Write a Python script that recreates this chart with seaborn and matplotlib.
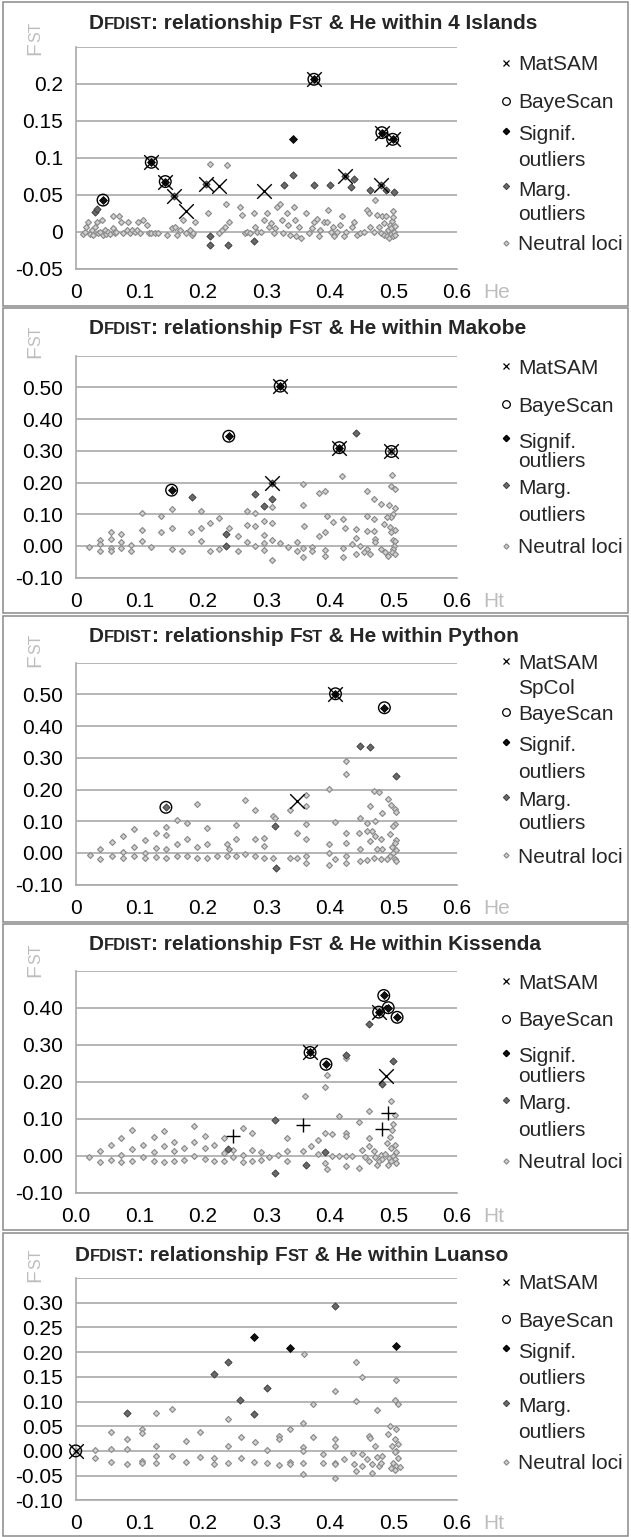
import matplotlib
matplotlib.use("Agg")
import matplotlib.pyplot as plt
import seaborn as sns
import pandas as pd
from matplotlib.patches import Rectangle
from matplotlib.lines import Line2D

# ---------------------------------------------------------------- data
# Panel 1: 4 Islands
ISL_SIG = [(0.043, 0.043), (0.119, 0.094), (0.141, 0.068), (0.375, 0.206), (0.482, 0.134), (0.499, 0.125), (0.342, 0.125)]
ISL_BAY = [(0.043, 0.043), (0.119, 0.094), (0.141, 0.068), (0.375, 0.206), (0.482, 0.134), (0.499, 0.125)]
ISL_MAT = [(0.119, 0.094), (0.141, 0.068), (0.375, 0.206), (0.482, 0.134), (0.499, 0.125), (0.155, 0.049),
           (0.173, 0.028), (0.205, 0.065), (0.226, 0.062), (0.296, 0.055), (0.424, 0.075), (0.481, 0.063)]
ISL_MARG = [(0.030, 0.027), (0.033, 0.031), (0.155, 0.049), (0.205, 0.065), (0.328, 0.063), (0.342, 0.077),
            (0.375, 0.064), (0.401, 0.064), (0.424, 0.075), (0.434, 0.061), (0.438, 0.071), (0.464, 0.057),
            (0.481, 0.063), (0.488, 0.057), (0.501, 0.054), (0.212, -0.005), (0.212, -0.017), (0.239, -0.017),
            (0.281, -0.012)]
ISL_NEUTRAL = [
    (0.012, -0.003), (0.014, 0.000), (0.017, 0.007), (0.019, 0.013), (0.022, -0.003), (0.025, 0.003), (0.027, -0.004),
    (0.030, 0.007), (0.033, 0.014), (0.035, -0.002), (0.038, 0.000), (0.041, 0.016), (0.043, -0.004), (0.046, 0.003),
    (0.048, -0.003), (0.051, 0.000), (0.054, -0.003), (0.058, 0.005), (0.059, 0.021), (0.062, -0.002), (0.064, 0.000),
    (0.068, 0.021), (0.072, 0.014), (0.075, -0.001), (0.080, 0.002), (0.083, 0.014), (0.085, -0.002), (0.089, 0.002),
    (0.093, 0.000), (0.096, 0.003), (0.098, 0.014), (0.101, -0.002), (0.106, 0.016), (0.113, 0.009), (0.116, -0.002),
    (0.119, -0.002), (0.125, -0.002), (0.130, -0.002), (0.143, -0.004), (0.151, 0.005), (0.156, 0.007), (0.160, -0.004),
    (0.164, 0.003), (0.169, 0.016), (0.174, -0.002), (0.180, 0.003), (0.183, -0.004), (0.188, 0.014), (0.185, -0.002),
    (0.209, 0.025), (0.237, 0.038), (0.211, 0.092), (0.238, 0.090), (0.225, -0.002), (0.230, 0.003), (0.235, 0.007),
    (0.241, 0.014), (0.259, 0.034), (0.267, -0.002), (0.262, 0.023), (0.269, 0.000), (0.275, -0.002), (0.280, 0.025),
    (0.283, 0.007), (0.285, 0.000), (0.291, 0.000), (0.296, 0.016), (0.301, 0.025), (0.304, 0.007), (0.307, 0.012),
    (0.312, -0.002), (0.314, 0.005), (0.317, 0.034), (0.322, 0.038), (0.325, 0.016), (0.327, -0.002), (0.333, 0.025),
    (0.335, 0.009), (0.338, -0.004), (0.343, 0.034), (0.346, 0.016), (0.347, -0.006), (0.351, 0.007), (0.354, -0.008),
    (0.362, 0.025), (0.367, -0.002), (0.372, 0.005), (0.375, 0.014), (0.380, 0.018), (0.383, -0.006), (0.385, 0.003),
    (0.391, 0.014), (0.395, 0.014), (0.398, 0.030), (0.402, 0.000), (0.405, 0.007), (0.407, -0.006), (0.412, 0.000),
    (0.416, 0.009), (0.419, 0.021), (0.422, -0.006), (0.425, 0.000), (0.435, 0.007), (0.438, 0.013), (0.443, -0.004),
    (0.448, -0.002), (0.454, 0.000), (0.458, 0.030), (0.462, 0.025), (0.464, 0.007), (0.469, 0.000), (0.472, 0.043),
    (0.475, 0.023), (0.477, 0.007), (0.480, -0.002), (0.483, 0.021), (0.485, -0.004), (0.490, -0.005), (0.492, 0.002),
    (0.494, -0.008), (0.495, 0.010), (0.496, -0.003), (0.497, 0.005), (0.498, 0.015), (0.499, -0.006), (0.500, 0.020),
    (0.500, 0.028), (0.501, 0.000), (0.502, -0.004), (0.502, 0.008), (0.488, 0.022), (0.486, 0.012)]

# Panel 2: Makobe
MAK_SIG = [(0.151, 0.176), (0.241, 0.346), (0.322, 0.504), (0.415, 0.310)]
MAK_BAY = [(0.151, 0.176), (0.241, 0.346), (0.322, 0.504), (0.415, 0.310), (0.497, 0.298)]
MAK_MAT = [(0.322, 0.504), (0.415, 0.310), (0.497, 0.298), (0.309, 0.199)]
MAK_MARG = [(0.183, 0.154), (0.283, 0.165), (0.296, 0.127), (0.309, 0.148), (0.442, 0.355), (0.497, 0.298),
            (0.309, 0.199), (0.237, 0.038), (0.237, 0.001)]
MAK_NEUTRAL = [
    (0.021, -0.004), (0.038, 0.020), (0.038, 0.006), (0.038, -0.015), (0.055, 0.043), (0.055, 0.022), (0.055, -0.007),
    (0.055, -0.015), (0.071, 0.038), (0.071, 0.014), (0.071, -0.007), (0.087, 0.003), (0.087, -0.015), (0.104, 0.105),
    (0.104, 0.050), (0.104, 0.015), (0.119, -0.004), (0.135, 0.095), (0.135, 0.045), (0.151, 0.118), (0.151, 0.058),
    (0.151, -0.009), (0.167, -0.015), (0.182, 0.043), (0.197, 0.109), (0.197, 0.017), (0.197, 0.057), (0.212, 0.072),
    (0.212, -0.015), (0.226, 0.087), (0.226, -0.009), (0.242, 0.058), (0.255, 0.032), (0.255, -0.015), (0.269, 0.111),
    (0.269, 0.067), (0.269, 0.014), (0.283, 0.105), (0.283, 0.064), (0.283, -0.001), (0.296, 0.079), (0.296, 0.034),
    (0.296, 0.008), (0.296, -0.013), (0.309, 0.124), (0.309, 0.072), (0.309, 0.019), (0.309, -0.043), (0.322, 0.008),
    (0.335, -0.004), (0.348, 0.011), (0.348, -0.015), (0.358, 0.194), (0.358, 0.128), (0.360, 0.062), (0.358, -0.006),
    (0.358, -0.035), (0.372, -0.004), (0.372, -0.015), (0.383, 0.168), (0.383, 0.032), (0.393, 0.173), (0.393, 0.043),
    (0.393, -0.013), (0.393, -0.030), (0.395, 0.095), (0.405, 0.077), (0.419, 0.220), (0.421, 0.085), (0.424, 0.058),
    (0.421, -0.006), (0.421, -0.035), (0.435, 0.006), (0.442, 0.053), (0.442, 0.025), (0.442, -0.025), (0.459, 0.173),
    (0.458, 0.095), (0.459, 0.048), (0.459, -0.009), (0.469, 0.147), (0.469, 0.085), (0.469, 0.048), (0.472, 0.022),
    (0.472, 0.011), (0.480, 0.132), (0.480, -0.009), (0.464, -0.025), (0.454, -0.020), (0.448, 0.001), (0.498, 0.225),
    (0.496, 0.190), (0.502, 0.180), (0.494, 0.130), (0.502, 0.120), (0.500, 0.100), (0.497, 0.090), (0.490, 0.090),
    (0.495, 0.060), (0.502, 0.050), (0.497, 0.045), (0.499, 0.020), (0.502, 0.015), (0.501, 0.000), (0.500, -0.010),
    (0.498, -0.020), (0.503, -0.025), (0.492, -0.030), (0.486, 0.070), (0.487, -0.020)]

# Panel 3: Python
PYT_SIG = [(0.409, 0.502), (0.486, 0.458)]
PYT_BAY = [(0.409, 0.502), (0.486, 0.458), (0.142, 0.144)]
PYT_MAT = [(0.409, 0.502), (0.349, 0.165)]
PYT_MARG = [(0.142, 0.144), (0.447, 0.337), (0.464, 0.333), (0.505, 0.243), (0.314, 0.085), (0.316, -0.046)]
PYT_NEUTRAL = [
    (0.022, -0.006), (0.039, 0.014), (0.039, -0.018), (0.057, 0.034), (0.057, -0.009), (0.075, 0.004), (0.075, -0.015),
    (0.075, 0.053), (0.092, 0.076), (0.092, 0.020), (0.092, -0.009), (0.109, 0.041), (0.109, 0.001), (0.109, -0.015),
    (0.126, 0.062), (0.126, 0.015), (0.126, -0.013), (0.142, 0.082), (0.142, 0.058), (0.142, 0.014), (0.142, -0.017),
    (0.159, 0.105), (0.159, 0.027), (0.159, -0.009), (0.175, 0.095), (0.175, 0.045), (0.175, -0.009), (0.191, 0.156),
    (0.191, 0.019), (0.191, -0.017), (0.206, 0.079), (0.206, 0.027), (0.206, -0.017), (0.222, -0.009), (0.238, 0.027),
    (0.241, 0.011), (0.238, -0.009), (0.253, 0.087), (0.253, 0.043), (0.253, -0.009), (0.267, 0.166), (0.267, -0.004),
    (0.282, 0.137), (0.282, 0.043), (0.282, -0.009), (0.296, 0.048), (0.296, 0.022), (0.296, -0.015), (0.310, 0.118),
    (0.314, 0.111), (0.310, -0.015), (0.337, 0.137), (0.337, -0.015), (0.349, 0.064), (0.349, -0.015), (0.363, 0.184),
    (0.363, 0.147), (0.363, 0.090), (0.363, 0.045), (0.363, -0.009), (0.363, -0.030), (0.399, 0.201), (0.399, 0.027),
    (0.399, 0.001), (0.399, -0.038), (0.409, 0.097), (0.409, -0.018), (0.426, 0.291), (0.426, 0.249), (0.426, 0.064),
    (0.426, 0.030), (0.426, -0.009), (0.426, -0.032), (0.446, 0.064), (0.448, 0.111), (0.448, 0.014), (0.448, -0.025),
    (0.458, 0.095), (0.458, 0.069), (0.458, -0.022), (0.464, 0.147), (0.464, 0.038), (0.467, 0.069), (0.469, 0.194),
    (0.472, 0.100), (0.472, 0.053), (0.475, 0.011), (0.477, 0.191), (0.480, 0.043), (0.483, 0.126), (0.483, 0.014),
    (0.469, -0.015), (0.480, -0.020), (0.492, 0.170), (0.497, 0.150), (0.502, 0.140), (0.505, 0.130), (0.503, 0.090),
    (0.500, 0.085), (0.495, 0.060), (0.505, 0.040), (0.503, 0.030), (0.498, 0.020), (0.505, 0.010), (0.500, 0.000),
    (0.495, -0.010), (0.503, -0.020), (0.505, -0.025), (0.490, -0.020)]

# Panel 4: Kissenda
KIS_SIG = [(0.485, 0.433), (0.492, 0.400), (0.506, 0.374), (0.394, 0.247), (0.369, 0.279), (0.477, 0.388)]
KIS_BAY = [(0.485, 0.433), (0.492, 0.400), (0.506, 0.374), (0.394, 0.247), (0.369, 0.279), (0.477, 0.388)]
KIS_MAT = [(0.369, 0.279), (0.477, 0.388), (0.488, 0.215)]
KIS_PLUS = [(0.247, 0.054), (0.358, 0.082), (0.483, 0.073), (0.492, 0.116)]
KIS_MARG = [(0.462, 0.357), (0.425, 0.272), (0.499, 0.257), (0.483, 0.193), (0.313, 0.097), (0.313, -0.047),
            (0.362, -0.024), (0.239, 0.019), (0.393, 0.010)]
KIS_NEUTRAL = [
    (0.021, -0.004), (0.038, 0.013), (0.038, -0.017), (0.055, 0.030), (0.055, -0.011), (0.072, 0.049), (0.072, 0.001),
    (0.072, -0.017), (0.089, 0.070), (0.089, 0.018), (0.089, -0.013), (0.106, 0.030), (0.106, -0.004), (0.123, 0.051),
    (0.123, 0.010), (0.123, -0.015), (0.139, 0.067), (0.139, 0.025), (0.139, -0.017), (0.155, 0.037), (0.155, 0.012),
    (0.155, -0.013), (0.171, 0.021), (0.171, -0.011), (0.187, 0.081), (0.187, 0.037), (0.187, -0.002), (0.203, 0.052),
    (0.203, 0.022), (0.203, -0.008), (0.218, 0.030), (0.218, -0.015), (0.233, 0.047), (0.233, 0.007), (0.233, -0.013),
    (0.248, 0.016), (0.248, -0.004), (0.263, 0.074), (0.263, 0.003), (0.263, -0.017), (0.277, 0.061), (0.277, 0.016),
    (0.277, -0.015), (0.291, 0.010), (0.291, -0.011), (0.304, -0.004), (0.319, 0.001), (0.333, 0.047), (0.333, 0.013),
    (0.333, -0.015), (0.358, 0.012), (0.361, 0.162), (0.370, 0.025), (0.382, 0.043), (0.382, 0.004), (0.393, 0.186),
    (0.396, 0.218), (0.393, 0.061), (0.393, -0.020), (0.396, -0.035), (0.404, 0.059), (0.404, -0.002), (0.415, 0.106),
    (0.415, -0.002), (0.425, 0.061), (0.425, 0.054), (0.425, -0.002), (0.425, -0.027), (0.435, -0.002), (0.446, 0.091),
    (0.446, -0.033), (0.451, 0.016), (0.456, -0.004), (0.462, 0.121), (0.462, 0.047), (0.462, 0.025), (0.462, -0.015),
    (0.469, 0.012), (0.472, -0.004), (0.475, -0.024), (0.477, -0.015), (0.480, 0.003), (0.483, -0.008), (0.425, 0.265),
    (0.497, 0.148), (0.503, 0.110), (0.500, 0.085), (0.498, 0.070), (0.495, 0.050), (0.490, 0.035), (0.502, 0.030),
    (0.497, 0.020), (0.505, 0.010), (0.500, 0.000), (0.494, -0.005), (0.503, -0.010), (0.497, -0.015), (0.505, -0.020),
    (0.492, -0.025), (0.487, 0.005)]

# Panel 5: Luanso
LUA_SIG = [(0.280, 0.231), (0.338, 0.209), (0.504, 0.212)]
LUA_BAY = [(0.0, 0.0)]
LUA_MAT = [(0.0, 0.0)]
LUA_MARG = [(0.080, 0.077), (0.217, 0.156), (0.239, 0.179), (0.259, 0.104), (0.301, 0.128), (0.409, 0.294), (0.280, 0.074)]
LUA_NEUTRAL = [
    (0.0, 0.0), (0.030, 0.002), (0.030, -0.015), (0.055, 0.038), (0.055, 0.003), (0.055, -0.022), (0.080, 0.024),
    (0.080, 0.003), (0.080, -0.027), (0.104, 0.044), (0.104, 0.037), (0.104, -0.020), (0.104, -0.024), (0.127, 0.076),
    (0.127, 0.010), (0.127, -0.010), (0.127, -0.025), (0.151, 0.085), (0.151, -0.010), (0.174, 0.020), (0.174, -0.022),
    (0.196, 0.038), (0.196, -0.013), (0.218, -0.015), (0.218, -0.027), (0.239, 0.064), (0.239, 0.009), (0.239, -0.024),
    (0.260, 0.029), (0.260, -0.015), (0.282, 0.018), (0.280, -0.022), (0.301, 0.002), (0.301, -0.025), (0.320, 0.030),
    (0.320, 0.024), (0.320, -0.028), (0.338, 0.044), (0.338, -0.022), (0.338, -0.027), (0.358, 0.057), (0.358, 0.007),
    (0.358, 0.000), (0.358, -0.025), (0.358, -0.046), (0.359, 0.196), (0.374, 0.095), (0.374, 0.029), (0.390, -0.007),
    (0.390, -0.025), (0.409, 0.122), (0.409, 0.025), (0.409, 0.009), (0.409, -0.025), (0.409, -0.027), (0.409, -0.055),
    (0.422, -0.017), (0.437, -0.005), (0.441, 0.179), (0.441, 0.101), (0.438, -0.027), (0.441, -0.040), (0.450, 0.150),
    (0.450, -0.007), (0.451, -0.030), (0.459, -0.017), (0.462, 0.030), (0.464, 0.027), (0.467, -0.044), (0.467, -0.027),
    (0.472, 0.010), (0.475, -0.013), (0.475, 0.083), (0.477, -0.030), (0.480, -0.024), (0.483, -0.010), (0.505, 0.144),
    (0.503, 0.104), (0.507, 0.095), (0.495, 0.050), (0.505, 0.044), (0.492, 0.035), (0.503, 0.025), (0.507, 0.014),
    (0.498, 0.010), (0.505, 0.000), (0.503, -0.003), (0.507, -0.015), (0.500, -0.025), (0.505, -0.030), (0.497, -0.035),
    (0.503, -0.038), (0.510, -0.033)]

# titles / axis texts / ticks
POPULATIONS = ["4 Islands", "Makobe", "Python", "Kissenda", "Luanso"]
X_AXIS_NAMES = ["He", "Ht", "He", "Ht", "Ht"]
X_TICKS = [0, 0.1, 0.2, 0.3, 0.4, 0.5, 0.6]
X_TICK_LABELS = [["0", "0.1", "0.2", "0.3", "0.4", "0.5", "0.6"]] * 3 + \
                [["0.0", "0.1", "0.2", "0.3", "0.4", "0.5", "0.6"]] + \
                [["0", "0.1", "0.2", "0.3", "0.4", "0.5", "0.6"]]
Y_TICKS = [
    [-0.05, 0, 0.05, 0.10, 0.15, 0.20, 0.25],
    [-0.1, 0, 0.1, 0.2, 0.3, 0.4, 0.5, 0.6],
    [-0.1, 0, 0.1, 0.2, 0.3, 0.4, 0.5, 0.6],
    [-0.1, 0, 0.1, 0.2, 0.3, 0.4, 0.5],
    [-0.10, -0.05, 0, 0.05, 0.10, 0.15, 0.20, 0.25, 0.30, 0.35],
]
Y_TICK_LABELS = [
    ["-0.05", "0", "0.05", "0.1", "0.15", "0.2", ""],
    ["-0.10", "0.00", "0.10", "0.20", "0.30", "0.40", "0.50", ""],
    ["-0.10", "0.00", "0.10", "0.20", "0.30", "0.40", "0.50", ""],
    ["-0.10", "0.00", "0.10", "0.20", "0.30", "0.40", ""],
    ["-0.10", "-0.05", "0.00", "0.05", "0.10", "0.15", "0.20", "0.25", "0.30", ""],
]
LEGEND_STD = [("mat", ["MatSAM"]), ("bay", ["BayeScan"]), ("sig", ["Signif.", "outliers"]),
              ("marg", ["Marg.", "outliers"]), ("neu", ["Neutral loci"])]
LEGEND_PYT = [("mat", ["MatSAM", "SpCol"]), ("bay", ["BayeScan"]), ("sig", ["Signif.", "outliers"]),
              ("marg", ["Marg.", "outliers"]), ("neu", ["Neutral loci"])]

PANEL_DATA = [
    dict(sig=ISL_SIG, bay=ISL_BAY, mat=ISL_MAT, marg=ISL_MARG, neu=ISL_NEUTRAL, plus=[], legend=LEGEND_STD),
    dict(sig=MAK_SIG, bay=MAK_BAY, mat=MAK_MAT, marg=MAK_MARG, neu=MAK_NEUTRAL, plus=[], legend=LEGEND_STD),
    dict(sig=PYT_SIG, bay=PYT_BAY, mat=PYT_MAT, marg=PYT_MARG, neu=PYT_NEUTRAL, plus=[], legend=LEGEND_PYT),
    dict(sig=KIS_SIG, bay=KIS_BAY, mat=KIS_MAT, marg=KIS_MARG, neu=KIS_NEUTRAL, plus=KIS_PLUS, legend=LEGEND_STD),
    dict(sig=LUA_SIG, bay=LUA_BAY, mat=LUA_MAT, marg=LUA_MARG, neu=LUA_NEUTRAL, plus=[], legend=LEGEND_STD),
]

# ---------------------------------------------------------------- layout (pixels)
W, H, DPI = 631, 1537, 100
AX_LEFT, AX_RIGHT = 75.7, 456.8
AX_TOP = [46.7, 355.7, 662.7, 970.7, 1278.0]
AX_BOTTOM = [269.0, 577.7, 884.7, 1192.7, 1500.3]
BOX = [(1.5, 305.5), (308.3, 613.5), (616.0, 921.5), (924.0, 1230.0), (1233.0, 1535.5)]
TITLE_X = [88.5, 88.5, 89.0, 88.5, 74.5]
TITLE_BASE = [29.3, 334.3, 642.0, 950.0, 1261.0]
FST_BOTTOM = [55.0, 358.3, 667.0, 976.7, 1281.7]
LEG_Y = [
    [63, 101, 133, 158, 188, 212, 243],
    [366, 404, 440, 459.3, 486.7, 513.3, 545.7],
    [661.3, 686, 712, 743.7, 770.3, 798.7, 822, 855.3],
    [981, 1019, 1055, 1074.3, 1101.7, 1128.3, 1160.7],
    [1281.7, 1319.3, 1350, 1376, 1405, 1430, 1461.7],
]

sns.set_style("white")
plt.rcParams["font.family"] = ["Liberation Sans", "DejaVu Sans"]
GRID = "#a9a9a9"
LIGHT = "#bdbdbd"

fig = plt.figure(figsize=(W / DPI, H / DPI), dpi=DPI)
renderer = fig.canvas.get_renderer()


def fx(x):
    return x / W


def fy(y):
    return 1 - y / H


def adv(s, size, weight="normal"):
    t1 = fig.text(0, 0, "I" + s + "I", fontsize=size, fontweight=weight)
    t2 = fig.text(0, 0, "II", fontsize=size, fontweight=weight)
    w = t1.get_window_extent(renderer).width - t2.get_window_extent(renderer).width
    t1.remove()
    t2.remove()
    return w


STYLE = {
    "neu": dict(marker="D", s=9, color="#d2d2d2", edgecolor="#8e8e8e", linewidth=0.9, zorder=3),
    "marg": dict(marker="D", s=13, color="#6a6a6a", edgecolor="#3f3f3f", linewidth=0.7, zorder=4),
    "sig": dict(marker="D", s=16, color="#111111", edgecolor="#000000", linewidth=0.6, zorder=5),
}

BIG, SMALL = 15, 12
TICK_FS = 15

for i, P in enumerate(PANEL_DATA):
    # frame box
    b0, b1 = BOX[i]
    fig.add_artist(Rectangle((fx(2.5), fy(b1)), (625.5) / W, (b1 - b0) / H, transform=fig.transFigure,
                             fill=False, edgecolor="#8a8a8a", linewidth=1.1))

    ax = fig.add_axes([fx(AX_LEFT), fy(AX_BOTTOM[i]), (AX_RIGHT - AX_LEFT) / W, (AX_BOTTOM[i] - AX_TOP[i]) / H])
    ax.set_facecolor("none")

    for kind in ["neu", "marg", "sig"]:
        df = pd.DataFrame(P[kind], columns=["x", "y"])
        sns.scatterplot(data=df, x="x", y="y", ax=ax, legend=False, clip_on=False, **STYLE[kind])
    if P["bay"]:
        df = pd.DataFrame(P["bay"], columns=["x", "y"])
        sns.scatterplot(data=df, x="x", y="y", ax=ax, legend=False, marker="o", s=70, color="black",
                        clip_on=False, zorder=6)
        coll = ax.collections[-1]
        coll.set_facecolor("none")
        coll.set_edgecolor("black")
        coll.set_linewidth(1.0)
    if P["mat"]:
        df = pd.DataFrame(P["mat"], columns=["x", "y"])
        sns.scatterplot(data=df, x="x", y="y", ax=ax, legend=False, marker="x", s=110, color="black",
                        linewidth=1.0, clip_on=False, zorder=7)
    if P["plus"]:
        df = pd.DataFrame(P["plus"], columns=["x", "y"])
        sns.scatterplot(data=df, x="x", y="y", ax=ax, legend=False, marker="+", s=110, color="black",
                        linewidth=1.0, clip_on=False, zorder=7)

    yt = Y_TICKS[i]
    ax.set_xlim(0, 0.6)
    ax.set_ylim(yt[0], yt[-1])
    ax.set_xticks(X_TICKS)
    ax.set_xticklabels(X_TICK_LABELS[i])
    ax.set_yticks(yt)
    ax.set_yticklabels(Y_TICK_LABELS[i])
    ax.set_xlabel("")
    ax.set_ylabel("")
    ax.yaxis.grid(True, color=GRID, linewidth=1.2)
    ax.xaxis.grid(False)
    for side in ["top", "right"]:
        ax.spines[side].set_visible(False)
    for side in ["left", "bottom"]:
        ax.spines[side].set_color(GRID)
        ax.spines[side].set_linewidth(1.2)
    ax.tick_params(axis="both", direction="out", length=3.5, width=1, color=GRID, labelsize=TICK_FS,
                   labelcolor="black")
    ax.tick_params(axis="y", pad=5.5)
    ax.tick_params(axis="x", pad=6.5)
    ax.set_axisbelow(True)

    # x-axis name to the right of the last tick label
    fig.text(fx(483), fy(AX_BOTTOM[i] + 29), X_AXIS_NAMES[i], fontsize=TICK_FS, color=LIGHT,
             ha="left", va="baseline")

    # vertical FST label (F + small caps ST)
    yb = FST_BOTTOM[i]
    fig.text(fx(40), fy(yb), "F", fontsize=15, color=LIGHT, rotation=90, rotation_mode="anchor",
             ha="left", va="baseline")
    yb -= adv("F", 15)
    fig.text(fx(40), fy(yb), "ST", fontsize=11.5, color=LIGHT, rotation=90, rotation_mode="anchor",
             ha="left", va="baseline")

    # title with small caps
    segs = [("D", BIG), ("FDIST", SMALL), (": relationship ", BIG), ("F", BIG), ("ST", SMALL),
            (" & He within " + POPULATIONS[i], BIG)]
    x = TITLE_X[i]
    for s, size in segs:
        fig.text(fx(x), fy(TITLE_BASE[i]), s, fontsize=size, fontweight="bold", ha="left", va="baseline")
        x += adv(s, size, "bold")

    # legend
    ys = LEG_Y[i]
    k = 0
    for kind, lines in P["legend"]:
        y0 = ys[k]
        if kind == "mat":
            m = Line2D([fx(506)], [fy(y0)], marker="x", markersize=5, color="black", markeredgewidth=0.9,
                       linestyle="none", transform=fig.transFigure)
        elif kind == "bay":
            m = Line2D([fx(506)], [fy(y0)], marker="o", markersize=5.5, markerfacecolor="none",
                       markeredgecolor="black", markeredgewidth=0.9, linestyle="none", transform=fig.transFigure)
        elif kind == "sig":
            m = Line2D([fx(506)], [fy(y0 - 2)], marker="D", markersize=3.2, markerfacecolor="#111111",
                       markeredgecolor="black", linestyle="none", transform=fig.transFigure)
        elif kind == "marg":
            m = Line2D([fx(506)], [fy(y0 - 2)], marker="D", markersize=3.2, markerfacecolor="#6a6a6a",
                       markeredgecolor="#3f3f3f", markeredgewidth=0.7, linestyle="none", transform=fig.transFigure)
        else:
            m = Line2D([fx(506)], [fy(y0)], marker="D", markersize=2.6, markerfacecolor="#d2d2d2",
                       markeredgecolor="#8e8e8e", markeredgewidth=0.9, linestyle="none", transform=fig.transFigure)
        fig.add_artist(m)
        for line in lines:
            fig.text(fx(518), fy(ys[k] + 7.5), line, fontsize=TICK_FS, ha="left", va="baseline")
            k += 1

fig.savefig("out.png", dpi=DPI, facecolor="white")
